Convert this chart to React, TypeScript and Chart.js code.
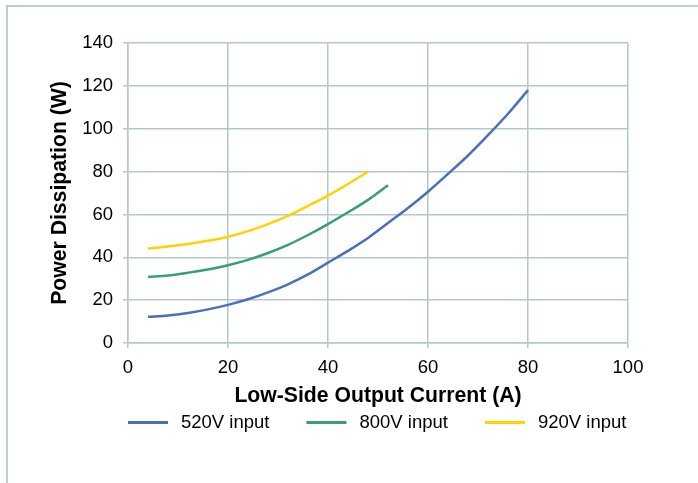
import React, { useEffect, useRef } from "react";
import { Chart, registerables } from "chart.js";

Chart.register(...registerables);

const current520 = [4, 8, 12, 16, 20, 24, 28, 32, 36, 40, 44, 48, 52, 56, 60, 64, 68, 72, 76, 80];
const power520 = [12.2, 12.8, 14, 15.7, 17.8, 20.4, 23.6, 27.4, 32, 37.5, 43, 49, 56, 63, 70.6, 78.9, 87.5, 97, 107, 118];

const current800 = [4, 8, 12, 16, 20, 24, 28, 32, 36, 40, 44, 48, 52];
const power800 = [30.8, 31.5, 32.8, 34.3, 36.3, 38.8, 42, 45.8, 50.4, 55.5, 61, 66.8, 73.6];

const current920 = [4, 8, 12, 16, 20, 24, 28, 32, 36, 40, 44, 48];
const power920 = [44.1, 45, 46.2, 47.7, 49.6, 52.2, 55.5, 59.3, 64, 68.8, 74.2, 80];

const seriesLabels = ["520V input", "800V input", "920V input"];
const seriesColors = ["#4a70b8", "#3a9e74", "#ffd200"];

const xTitle = "Low-Side Output Current (A)";
const yTitle = "Power Dissipation (W)";

const FONT = "'Liberation Sans', Arial, Helvetica, sans-serif";
const GRID = "#b4c6cf";

const pairs = (xs: number[], ys: number[]) => xs.map((x, i) => ({ x, y: ys[i] }));

const frameAndLegend = {
  id: "frameAndLegend",
  beforeDraw(chart: any) {
    const ctx = chart.ctx;
    ctx.save();
    ctx.fillStyle = "#ffffff";
    ctx.fillRect(0, 0, chart.width, chart.height);
    ctx.strokeStyle = "#bccdd5";
    ctx.lineWidth = 2;
    ctx.beginPath();
    ctx.moveTo(7, chart.height);
    ctx.lineTo(7, 6);
    ctx.lineTo(chart.width, 6);
    ctx.stroke();
    ctx.restore();
  },
  afterDraw(chart: any) {
    const ctx = chart.ctx;
    ctx.save();
    ctx.font = `18.5px ${FONT}`;
    ctx.textBaseline = "middle";
    ctx.textAlign = "left";
    let x = chart.chartArea.left;
    const y = 422.5;
    chart.data.datasets.forEach((ds: any) => {
      ctx.strokeStyle = ds.borderColor;
      ctx.lineWidth = 3;
      ctx.beginPath();
      ctx.moveTo(x, y);
      ctx.lineTo(x + 40, y);
      ctx.stroke();
      ctx.fillStyle = "#000000";
      const tx = x + 53;
      ctx.fillText(ds.label, tx, y);
      x = tx + ctx.measureText(ds.label).width + 37;
    });
    ctx.restore();
  },
};

export default function App() {
  const ref = useRef<HTMLCanvasElement | null>(null);

  useEffect(() => {
    if (!ref.current) return;
    const chart = new Chart(ref.current, {
      type: "line",
      data: {
        datasets: [
          { label: seriesLabels[0], data: pairs(current520, power520), borderColor: seriesColors[0], backgroundColor: seriesColors[0] },
          { label: seriesLabels[1], data: pairs(current800, power800), borderColor: seriesColors[1], backgroundColor: seriesColors[1] },
          { label: seriesLabels[2], data: pairs(current920, power920), borderColor: seriesColors[2], backgroundColor: seriesColors[2] },
        ].map((d) => ({ ...d, borderWidth: 2.5, pointRadius: 0, cubicInterpolationMode: "monotone" as const, fill: false })),
      },
      options: {
        animation: false,
        responsive: false,
        maintainAspectRatio: false,
        layout: { padding: { top: 43, right: 70, left: 0, bottom: 74 } },
        plugins: {
          legend: { display: false },
          tooltip: { enabled: false },
        },
        scales: {
          x: {
            type: "linear",
            min: 0,
            max: 100,
            ticks: { stepSize: 20, color: "#000", padding: 9, font: { family: FONT, size: 18.5 } },
            grid: { color: GRID, lineWidth: 1.5, tickLength: 5, tickColor: GRID },
            border: { color: GRID, width: 1.5 },
            title: { display: true, text: xTitle, color: "#000", padding: { top: 0, bottom: 0 }, font: { family: FONT, size: 21.2, weight: "bold" } },
            afterFit: (s: any) => { s.height = 66; },
          },
          y: {
            type: "linear",
            min: 0,
            max: 140,
            ticks: { stepSize: 20, color: "#000", padding: 10, font: { family: FONT, size: 18.5 } },
            grid: { color: GRID, lineWidth: 1.5, tickLength: 5, tickColor: GRID },
            border: { color: GRID, width: 1.5 },
            title: { display: true, text: yTitle, color: "#000", padding: { top: 47, bottom: 0 }, font: { family: FONT, size: 21.2, weight: "bold" } },
            afterFit: (s: any) => { s.width = 128; },
          },
        },
      },
      plugins: [frameAndLegend],
    });
    return () => chart.destroy();
  }, []);

  return (
    <div style={{ position: "fixed", left: 0, top: 0, width: 698, height: 483, background: "#fff" }}>
      <canvas ref={ref} width={698} height={483} style={{ width: 698, height: 483, display: "block" }} />
    </div>
  );
}
